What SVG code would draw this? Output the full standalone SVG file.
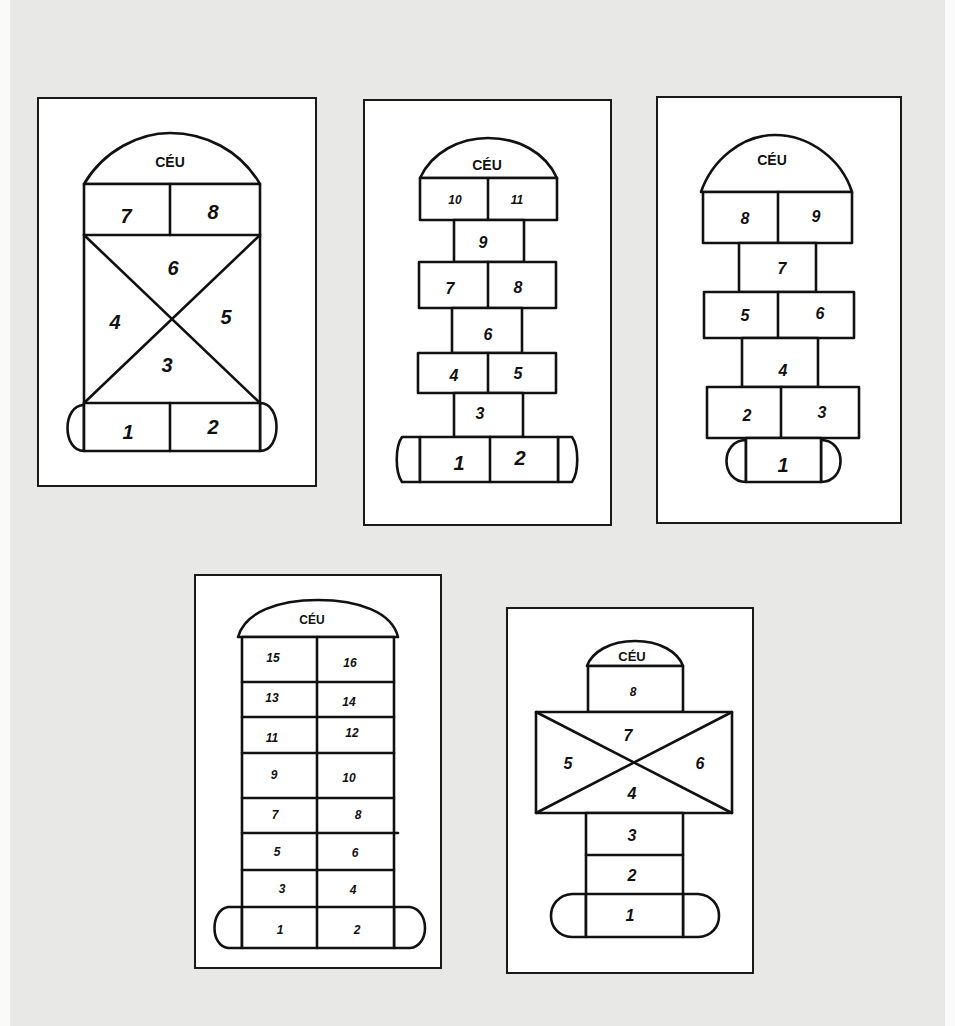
<svg xmlns="http://www.w3.org/2000/svg" width="955" height="1026" viewBox="0 0 955 1026">
<style>
.card{fill:#fff;stroke:#1a1a1a;stroke-width:2}
.ln{fill:none;stroke:#111;stroke-width:2.6;stroke-linejoin:round;stroke-linecap:round}
.bx{fill:#fff;stroke:#111;stroke-width:2.6;stroke-linejoin:round}
.t{font-family:"Liberation Sans",Arial,sans-serif;font-weight:bold;font-style:italic;fill:#111;text-anchor:middle;dominant-baseline:central}
.c{font-family:"Liberation Sans",Arial,sans-serif;font-weight:bold;fill:#111;text-anchor:middle;dominant-baseline:central;font-size:14px}
.n20{font-size:20px}.n16{font-size:16px}.n13{font-size:12px}.n12{font-size:12px}
</style>
<rect x="0" y="0" width="955" height="1026" fill="#fafafa"/>
<rect x="10" y="0" width="935" height="1026" fill="#e8e8e6"/>

<g id="card1">
<rect class="card" x="38" y="98" width="278" height="388"/>
<path class="bx" d="M84,184 C104,150 140,133 170,133 C205,133 240,150 260,184 Z"/>
<path class="bx" d="M84,405 C62,405 62,451 84,451 Z"/>
<path class="bx" d="M260,403 C282,403 282,451 260,451 Z"/>
<rect class="bx" x="84" y="184" width="176" height="267"/>
<line class="ln" x1="84" y1="235" x2="260" y2="235"/>
<line class="ln" x1="84" y1="403" x2="260" y2="403"/>
<line class="ln" x1="170" y1="184" x2="170" y2="235"/>
<line class="ln" x1="170" y1="403" x2="170" y2="451"/>
<line class="ln" x1="84" y1="235" x2="260" y2="403"/>
<line class="ln" x1="260" y1="235" x2="84" y2="403"/>
<text class="c" x="170" y="162">CÉU</text>
<text class="t n20" x="126" y="216">7</text>
<text class="t n20" x="213" y="212">8</text>
<text class="t n20" x="173" y="268">6</text>
<text class="t n20" x="115" y="322">4</text>
<text class="t n20" x="226" y="317">5</text>
<text class="t n20" x="167" y="365">3</text>
<text class="t n20" x="128" y="432">1</text>
<text class="t n20" x="213" y="427">2</text>
</g>

<g id="card2">
<rect class="card" x="364" y="100" width="247" height="425"/>
<path class="bx" d="M420,178 C432,152 460,138 488,138 C518,138 545,152 557,178 Z"/>
<rect class="bx" x="420" y="178" width="137" height="42"/>
<line class="ln" x1="488" y1="178" x2="488" y2="220"/>
<rect class="bx" x="454" y="220" width="70" height="42"/>
<rect class="bx" x="419" y="262" width="137" height="46"/>
<line class="ln" x1="488" y1="262" x2="488" y2="308"/>
<rect class="bx" x="452" y="308" width="70" height="45"/>
<rect class="bx" x="418" y="353" width="138" height="40"/>
<line class="ln" x1="488" y1="353" x2="488" y2="393"/>
<rect class="bx" x="454" y="393" width="69" height="44"/>
<path class="bx" d="M420,437 L402,437 C395,447 395,472 402,482 L420,482 Z"/>
<path class="bx" d="M558,437 L572,437 C579,447 579,472 572,482 L558,482 Z"/>
<rect class="bx" x="420" y="437" width="138" height="45"/>
<line class="ln" x1="490" y1="437" x2="490" y2="482"/>
<text class="c" x="487" y="165">CÉU</text>
<text class="t n13" x="455" y="200">10</text>
<text class="t n13" x="517" y="200">11</text>
<text class="t n16" x="483" y="242">9</text>
<text class="t n16" x="450" y="288">7</text>
<text class="t n16" x="518" y="287">8</text>
<text class="t n16" x="488" y="334">6</text>
<text class="t n16" x="454" y="375">4</text>
<text class="t n16" x="518" y="373">5</text>
<text class="t n16" x="480" y="413">3</text>
<text class="t n20" x="459" y="463">1</text>
<text class="t n20" x="520" y="458">2</text>
</g>

<g id="card3">
<rect class="card" x="657" y="97" width="244" height="426"/>
<path class="bx" d="M701,192 C712,160 742,135 775,135 C810,135 842,160 852,192 Z"/>
<rect class="bx" x="703" y="192" width="149" height="51"/>
<line class="ln" x1="778" y1="192" x2="778" y2="243"/>
<rect class="bx" x="739" y="243" width="77" height="49"/>
<rect class="bx" x="704" y="292" width="150" height="46"/>
<line class="ln" x1="778" y1="292" x2="778" y2="338"/>
<rect class="bx" x="742" y="338" width="76" height="49"/>
<rect class="bx" x="707" y="387" width="152" height="51"/>
<line class="ln" x1="781" y1="387" x2="781" y2="438"/>
<path class="bx" d="M746,440 C720,440 720,482 746,482 Z"/>
<path class="bx" d="M821,440 C847,440 847,482 821,482 Z"/>
<rect class="bx" x="746" y="438" width="75" height="44"/>
<text class="c" x="772" y="160">CÉU</text>
<text class="t n16" x="745" y="218">8</text>
<text class="t n16" x="816" y="216">9</text>
<text class="t n16" x="782" y="268">7</text>
<text class="t n16" x="745" y="315">5</text>
<text class="t n16" x="820" y="313">6</text>
<text class="t n16" x="783" y="370">4</text>
<text class="t n16" x="747" y="415">2</text>
<text class="t n16" x="822" y="412">3</text>
<text class="t n20" x="783" y="465">1</text>
</g>

<g id="card4">
<rect class="card" x="195" y="575" width="246" height="393"/>
<path class="bx" d="M238,637 C245,612 278,600 318,600 C358,600 392,612 398,637 Z"/>
<path class="bx" d="M242,907 L228,907 C210,910 210,946 228,948 L242,948 Z"/>
<path class="bx" d="M394,907 L410,907 C430,910 430,946 410,948 L394,948 Z"/>
<rect class="bx" x="242" y="637" width="152" height="311"/>
<line class="ln" x1="317" y1="637" x2="317" y2="948"/>
<line class="ln" x1="242" y1="682" x2="394" y2="682"/>
<line class="ln" x1="242" y1="717" x2="394" y2="717"/>
<line class="ln" x1="242" y1="753" x2="394" y2="753"/>
<line class="ln" x1="242" y1="798" x2="394" y2="798"/>
<line class="ln" x1="242" y1="833" x2="398" y2="833"/>
<line class="ln" x1="242" y1="870" x2="394" y2="870"/>
<line class="ln" x1="242" y1="907" x2="394" y2="907"/>
<text class="c" x="312" y="620" style="font-size:12px">CÉU</text>
<text class="t n12" x="273" y="658">15</text>
<text class="t n12" x="350" y="663">16</text>
<text class="t n12" x="272" y="698">13</text>
<text class="t n12" x="349" y="702">14</text>
<text class="t n12" x="272" y="738">11</text>
<text class="t n12" x="352" y="733">12</text>
<text class="t n12" x="274" y="775">9</text>
<text class="t n12" x="349" y="778">10</text>
<text class="t n12" x="275" y="815">7</text>
<text class="t n12" x="358" y="815">8</text>
<text class="t n12" x="277" y="852">5</text>
<text class="t n12" x="355" y="853">6</text>
<text class="t n12" x="282" y="889">3</text>
<text class="t n12" x="353" y="890">4</text>
<text class="t n12" x="280" y="930">1</text>
<text class="t n12" x="357" y="930">2</text>
</g>

<g id="card5">
<rect class="card" x="507" y="608" width="246" height="365"/>
<path class="bx" d="M587,666 C592,652 610,641 635,641 C660,641 678,652 683,666 Z"/>
<rect class="bx" x="588" y="666" width="95" height="46"/>
<rect class="bx" x="536" y="712" width="196" height="101"/>
<line class="ln" x1="536" y1="712" x2="732" y2="813"/>
<line class="ln" x1="732" y1="712" x2="536" y2="813"/>
<path class="bx" d="M586,894 L572,894 C544,896 544,936 572,937 L586,937 Z"/>
<path class="bx" d="M683,894 L698,894 C726,896 726,936 698,937 L683,937 Z"/>
<rect class="bx" x="586" y="813" width="97" height="124"/>
<line class="ln" x1="586" y1="855" x2="683" y2="855"/>
<line class="ln" x1="586" y1="894" x2="683" y2="894"/>
<text class="c" x="632" y="656" style="font-size:13px">CÉU</text>
<text class="t n13" x="633" y="692">8</text>
<text class="t n16" x="628" y="735">7</text>
<text class="t n16" x="568" y="763">5</text>
<text class="t n16" x="700" y="763">6</text>
<text class="t n16" x="632" y="793">4</text>
<text class="t n16" x="632" y="835">3</text>
<text class="t n16" x="632" y="875">2</text>
<text class="t n16" x="630" y="915">1</text>
</g>
</svg>
